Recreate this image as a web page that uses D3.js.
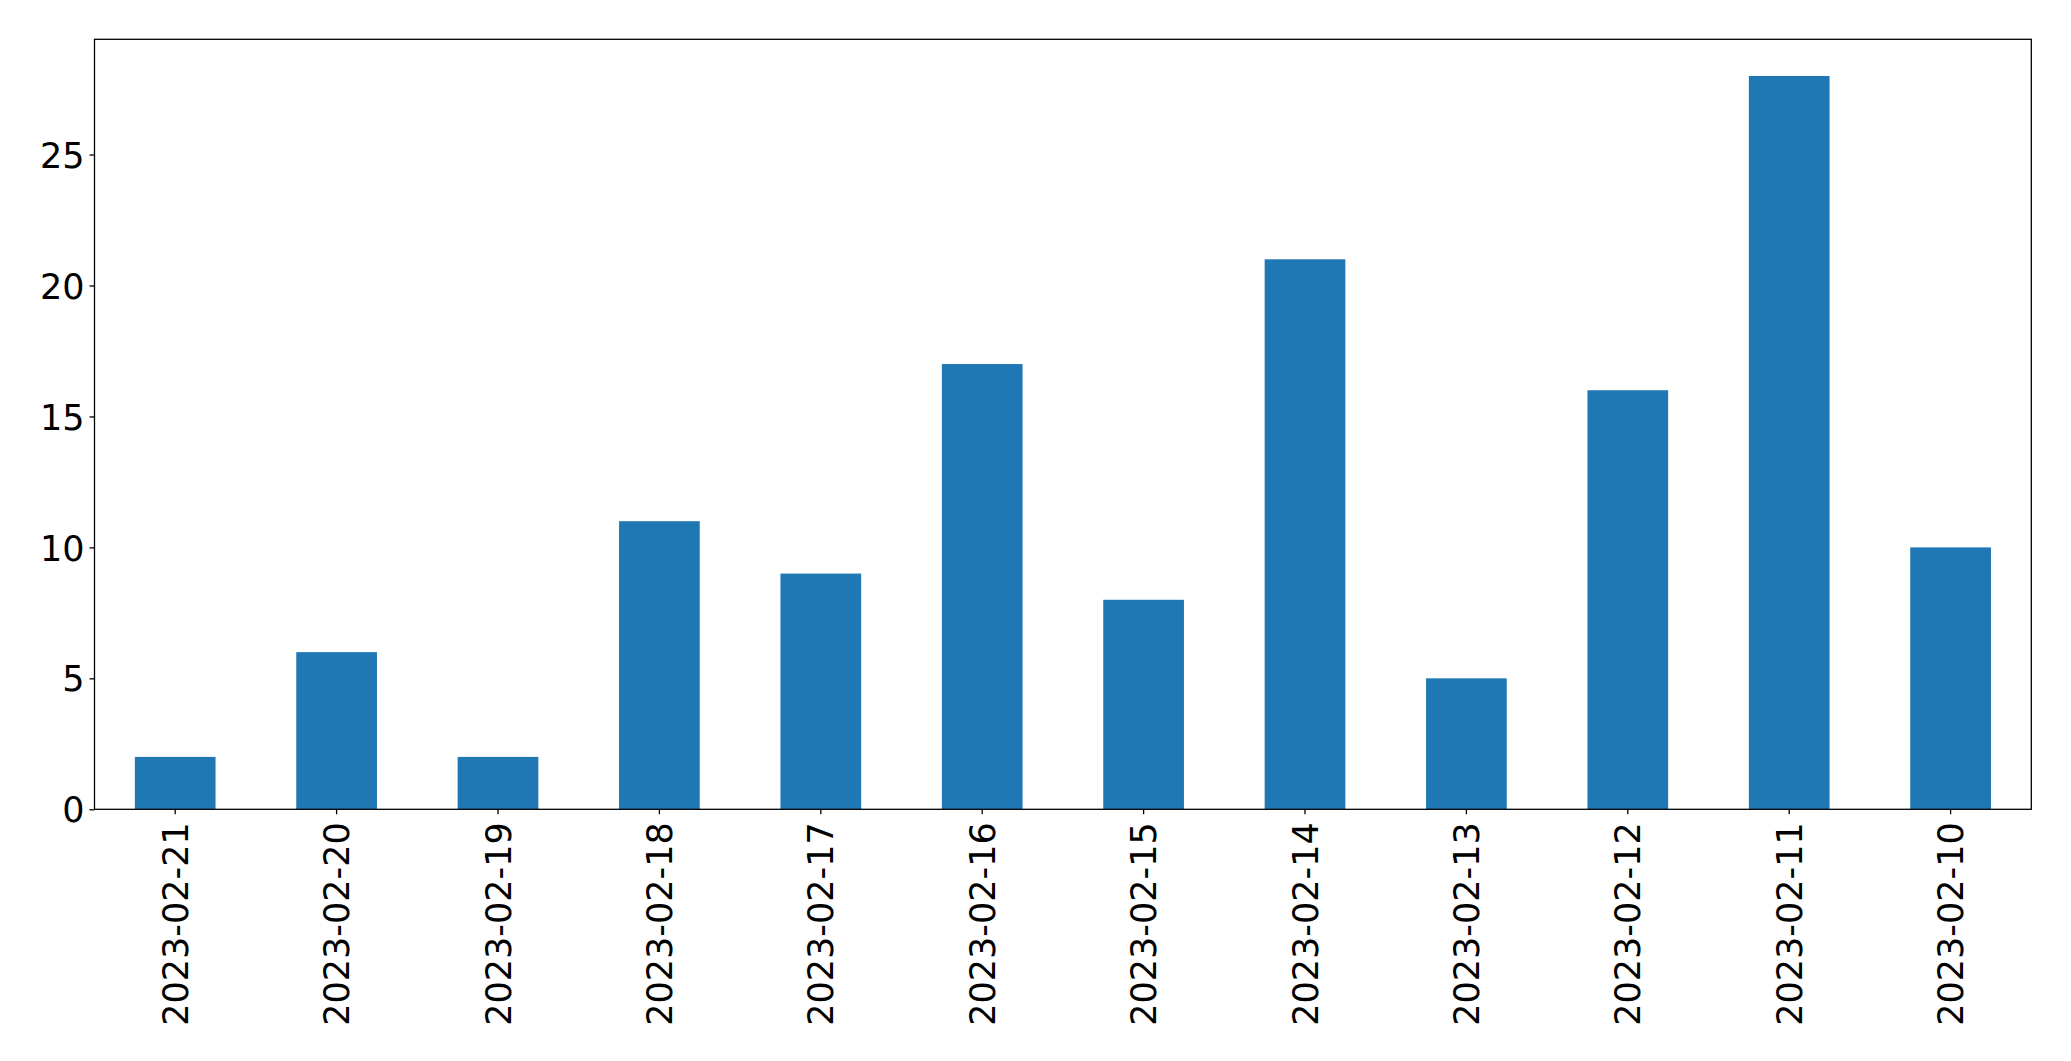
<!DOCTYPE html>
<html>
<head>
<meta charset="utf-8">
<script src="https://cdn.jsdelivr.net/npm/d3@7"></script>
<style>
  html, body { margin: 0; padding: 0; background: #fff; }
  svg { display: block; }
  text { font-family: "DejaVu Sans", sans-serif; fill: #000; }
</style>
</head>
<body>
<svg id="chart" width="2071" height="1061"></svg>
<script>
const categories = ["2023-02-21","2023-02-20","2023-02-19","2023-02-18","2023-02-17","2023-02-16","2023-02-15","2023-02-14","2023-02-13","2023-02-12","2023-02-11","2023-02-10"];
const values = [2, 6, 2, 11, 9, 17, 8, 21, 5, 16, 28, 10];
const yTicks = [0, 5, 10, 15, 20, 25];

const plotLeft = 94.5, plotRight = 2031.3, plotTop = 39.3, plotBottom = 809.3;
const fontSize = 35;

const svg = d3.select("#chart");

const x = d3.scaleBand().domain(categories).range([plotLeft, plotRight]).paddingInner(0.5).paddingOuter(0.25);
const y = d3.scaleLinear().domain([0, d3.max(values) * 1.05]).range([plotBottom, plotTop]);

svg.append("g").selectAll("rect")
  .data(categories)
  .join("rect")
  .attr("x", (d) => x(d))
  .attr("width", x.bandwidth())
  .attr("y", (d, i) => y(values[i]))
  .attr("height", (d, i) => y(0) - y(values[i]))
  .attr("fill", "#1f77b4");

// Y axis
const yAxis = d3.axisLeft(y).tickValues(yTicks).tickSize(5).tickPadding(5).tickFormat(d3.format("d"));
const gy = svg.append("g").attr("transform", `translate(${plotLeft},0)`).call(yAxis);
gy.select(".domain").remove();
gy.selectAll(".tick line").attr("stroke", "#000").attr("stroke-width", 1.3);
gy.selectAll(".tick text").attr("font-size", fontSize).attr("font-family", "DejaVu Sans").attr("dy", "0.36em").attr("fill", "#000");

// X axis
const xAxis = d3.axisBottom(x).tickSize(5).tickPadding(0);
const gx = svg.append("g").attr("transform", `translate(0,${plotBottom})`).call(xAxis);
gx.select(".domain").remove();
gx.selectAll(".tick line").attr("stroke", "#000").attr("stroke-width", 1.3);
gx.selectAll(".tick text")
  .attr("font-size", fontSize)
  .attr("font-family", "DejaVu Sans")
  .attr("fill", "#000")
  .attr("text-anchor", "end")
  .attr("transform", "translate(0,13) rotate(-90)")
  .attr("x", 0)
  .attr("y", 0)
  .attr("dy", "0.36em");

// Frame
svg.append("rect")
  .attr("x", plotLeft).attr("y", plotTop)
  .attr("width", plotRight - plotLeft).attr("height", plotBottom - plotTop)
  .attr("fill", "none").attr("stroke", "#000").attr("stroke-width", 1.3);
</script>
</body>
</html>
